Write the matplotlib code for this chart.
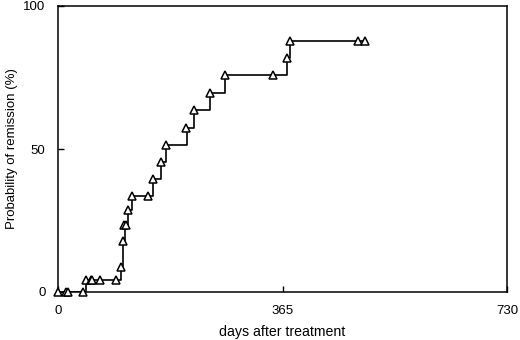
import numpy as np
import matplotlib
matplotlib.use("Agg")
import matplotlib.pyplot as plt

plt.rcParams['font.family'] = ['Liberation Sans', 'DejaVu Sans']

# step curve: day of each jump and level after it (%)
step_days = [0, 45, 102, 105, 109, 113, 120, 155, 168, 176, 209, 221, 247, 272, 372, 378, 499]
step_prob = [0, 4.2, 8.8, 18, 23.5, 28.5, 33.5, 39.5, 45.5, 51.5, 57.5, 63.5, 69.5, 75.8, 81.8, 87.8, 87.8]

# triangle marks
mark_days = [0, 13, 16, 40, 45, 53, 56, 69, 95, 102, 105, 108, 110, 113, 120, 147,
             154, 167, 175, 208, 221, 247, 272, 350, 372, 378, 487, 499]
mark_prob = [0, 0, 0, 0, 4.2, 4.2, 4.2, 4.2, 4.2, 8.8, 18, 23.5, 23.5, 28.5, 33.5, 33.5,
             39.5, 45.5, 51.5, 57.5, 63.5, 69.5, 75.8, 75.8, 81.8, 87.8, 87.8, 87.8]

xticks = [0, 365, 730]
yticks = [0, 50, 100]

fig = plt.figure(figsize=(5.2, 3.4), dpi=100)
ax = fig.add_axes([58/520, 48/340, 449/520, 286/340])

ax.plot(step_days, step_prob, color='black', lw=1.2, drawstyle='steps-post', zorder=2)
ax.plot(mark_days, mark_prob, ls='none', marker='^', ms=5.5, mfc='white', mec='black',
        mew=1.1, zorder=3, clip_on=False)

ax.set_xlim(0, 730)
ax.set_ylim(0, 100)
ax.set_xticks(xticks)
ax.set_yticks(yticks)
ax.tick_params(direction='in', length=4, width=1, labelsize=9.5, pad=9, colors='black')
for s in ax.spines.values():
    s.set_linewidth(1.1)

ax.set_xlabel('days after treatment', fontsize=10.2, labelpad=6)
ax.set_ylabel('Probability of remission (%)', fontsize=9.5, labelpad=4)

fig.savefig('out.png', dpi=100)
